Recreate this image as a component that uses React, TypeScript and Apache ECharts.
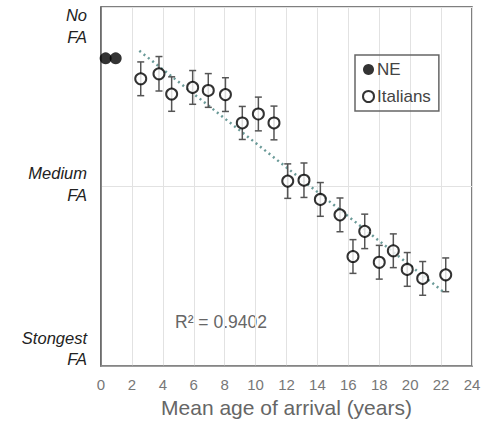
import React, { useEffect, useRef } from "react";
import * as echarts from "echarts";

const neX = [0.3, 0.95];
const neY = [85.7, 85.7];

const itX = [2.57, 3.75, 4.57, 5.93, 6.94, 8.05, 9.14, 10.18, 11.19, 12.08, 13.13, 14.19, 15.46, 16.3, 17.06, 18.0, 18.91, 19.81, 20.81, 22.3];
const itY = [80.0, 81.4, 75.75, 77.6, 76.75, 75.6, 67.7, 70.2, 67.7, 51.5, 51.75, 46.4, 42.1, 30.5, 37.5, 28.9, 32.1, 26.9, 24.4, 25.4];
const itErr = [4.7, 4.8, 4.8, 4.7, 4.7, 4.7, 4.6, 4.7, 4.7, 4.8, 4.8, 4.7, 4.7, 4.7, 4.8, 4.7, 4.7, 4.7, 4.7, 4.7];

const trendX = [2.48, 22.2];
const trendY = [87.8, 20.5];

const xTicks = [0, 2, 4, 6, 8, 10, 12, 14, 16, 18, 20, 22, 24];
const yLevelLines = [
  ["No", "FA"],
  ["Medium", "FA"],
  ["Stongest", "FA"],
];
const xTitle = "Mean age of arrival (years)";
const r2Label = "R² = 0.9402";

export default function App() {
  const ref = useRef<HTMLDivElement>(null);
  useEffect(() => {
    if (!ref.current) return;
    const chart = echarts.init(ref.current, undefined, { renderer: "svg" });
    const font = "'Liberation Sans', Arial, sans-serif";
    const errData = itX.map((x, i) => [x, itY[i], itErr[i]]);
    const labelYs = [
      [15, 36.5],
      [173, 195],
      [338, 359],
    ];
    const yLabelTexts: any[] = [];
    yLevelLines.forEach((lines, i) => {
      lines.forEach((t, j) => {
        yLabelTexts.push({
          type: "text",
          x: 87,
          y: labelYs[i][j],
          style: {
            text: t,
            font: `italic 16.5px ${font}`,
            fill: "#222",
            align: "right",
            verticalAlign: "middle",
          },
        });
      });
    });
    chart.setOption({
      animation: false,
      textStyle: { fontFamily: font },
      grid: {
        left: 101,
        right: 18,
        top: 7,
        bottom: 56,
        show: true,
        borderColor: "#555",
        borderWidth: 1.5,
      },
      xAxis: {
        type: "value",
        min: xTicks[0],
        max: xTicks[xTicks.length - 1],
        interval: 2,
        axisLine: { show: true, lineStyle: { color: "#888", width: 1.5 } },
        axisTick: { show: false },
        axisLabel: { color: "#777", fontSize: 15, margin: 11, fontFamily: font },
        splitLine: { show: true, lineStyle: { color: "#e2e2e2", width: 1 } },
        name: xTitle,
        nameLocation: "middle",
        nameGap: 31,
        nameTextStyle: { color: "#666", fontSize: 21, fontFamily: font },
      },
      yAxis: {
        type: "value",
        min: 0,
        max: 100,
        interval: 50,
        axisLine: { show: true, lineStyle: { color: "#666", width: 1.5 } },
        axisTick: { show: false },
        axisLabel: { show: false },
        splitLine: { show: true, lineStyle: { color: "#e2e2e2", width: 1 } },
      },
      legend: {
        orient: "vertical",
        left: 355,
        top: 55,
        padding: [6, 8, 6, 7],
        borderColor: "#666",
        borderWidth: 1.5,
        itemWidth: 11,
        itemHeight: 11,
        itemGap: 10,
        textStyle: { color: "#444", fontSize: 17, fontFamily: font, padding: [0, 0, 0, -2] },
        data: [
          { name: "NE", icon: "circle" },
          { name: "Italians", icon: "circle" },
        ],
      },
      series: [
        {
          name: "trend",
          type: "line",
          data: trendX.map((x, i) => [x, trendY[i]]),
          symbol: "none",
          lineStyle: { color: "#6a9a98", width: 2.5, type: [2, 3.5] },
          z: 1,
        },
        {
          name: "err",
          type: "custom",
          data: errData,
          z: 2,
          renderItem: (params: any, api: any) => {
            const x = api.value(0);
            const y = api.value(1);
            const e = api.value(2);
            const top = api.coord([x, y + e]);
            const bot = api.coord([x, y - e]);
            const hw = 3.5;
            const style = { stroke: "#555", lineWidth: 1.5 };
            return {
              type: "group",
              children: [
                { type: "line", shape: { x1: top[0], y1: top[1], x2: bot[0], y2: bot[1] }, style },
                { type: "line", shape: { x1: top[0] - hw, y1: top[1], x2: top[0] + hw, y2: top[1] }, style },
                { type: "line", shape: { x1: bot[0] - hw, y1: bot[1], x2: bot[0] + hw, y2: bot[1] }, style },
              ],
            };
          },
        },
        {
          name: "NE",
          type: "scatter",
          data: neX.map((x, i) => [x, neY[i]]),
          symbol: "circle",
          symbolSize: 12,
          itemStyle: { color: "#000", borderColor: "#000", borderWidth: 0 },
          z: 3,
        },
        {
          name: "Italians",
          type: "scatter",
          data: itX.map((x, i) => [x, itY[i]]),
          symbol: "circle",
          symbolSize: 11,
          itemStyle: { color: "#fff", borderColor: "#000", borderWidth: 2 },
          z: 4,
        },
      ],
      graphic: [
        ...yLabelTexts,
        {
          type: "text",
          x: 175,
          y: 321.5,
          style: { text: r2Label, font: `17.5px ${font}`, fill: "#666", verticalAlign: "middle" },
        },
      ],
    });
    return () => chart.dispose();
  }, []);
  return <div ref={ref} style={{ width: 490, height: 423, position: "absolute", left: 0, top: 0 }} />;
}
